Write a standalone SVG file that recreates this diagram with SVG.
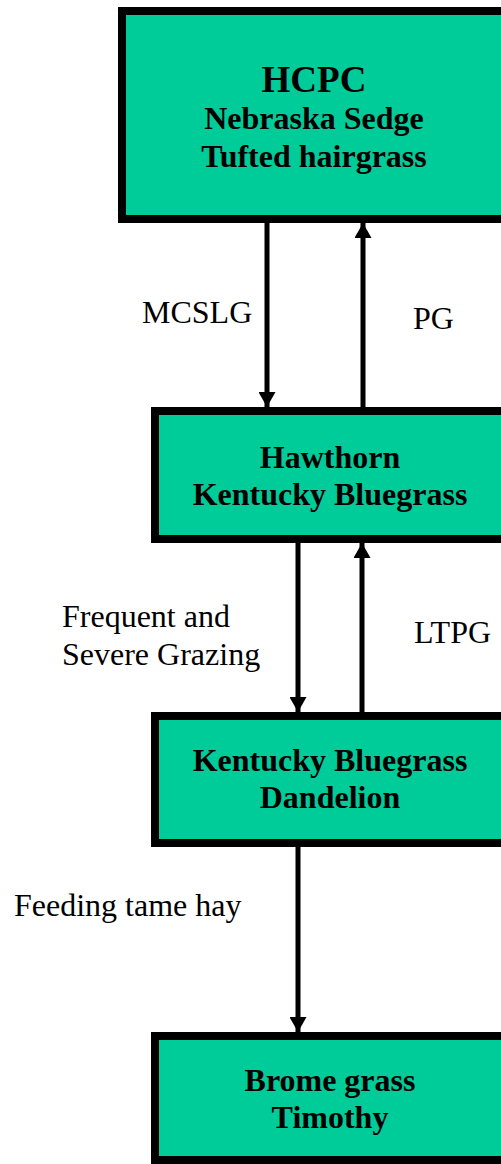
<svg xmlns="http://www.w3.org/2000/svg" width="501" height="1164" viewBox="0 0 501 1164">
<style>
.box{fill:#00CC99;stroke:#000;stroke-width:8}
.nt{font-family:"Liberation Serif","Times New Roman",serif;font-weight:bold;font-size:32px;text-anchor:middle;fill:#000}
.lb{font-family:"Liberation Serif","Times New Roman",serif;font-size:32px;fill:#000}
.c{stroke:#000;stroke-width:5;fill:none}
</style>
<defs>
<marker id="ah" viewBox="0 0 15 17" refX="15" refY="8.5" markerWidth="15" markerHeight="17" markerUnits="userSpaceOnUse" orient="auto">
<path d="M0,0 L15,8.5 L0,17 Z" fill="#000"/>
</marker>
</defs>
<rect width="501" height="1164" fill="#fff"/>
<g id="connectors">
<line class="c" x1="267" y1="223" x2="267" y2="407" marker-end="url(#ah)"/>
<line class="c" x1="363" y1="407" x2="363" y2="223" marker-end="url(#ah)"/>
<line class="c" x1="298" y1="543" x2="298" y2="712" marker-end="url(#ah)"/>
<line class="c" x1="362" y1="712" x2="362" y2="543" marker-end="url(#ah)"/>
<line class="c" x1="298" y1="847" x2="298" y2="1032" marker-end="url(#ah)"/>
<text class="lb" x="142" y="323">MCSLG</text>
<text class="lb" x="413" y="329">PG</text>
<text class="lb" x="62" y="627">Frequent and</text>
<text class="lb" x="62" y="665">Severe Grazing</text>
<text class="lb" x="414" y="643">LTPG</text>
<text class="lb" x="14" y="916">Feeding tame hay</text>
</g>
<g id="hcpc">
<rect class="box" x="122" y="11" width="386" height="208"/>
<text class="nt" x="314" y="92" style="font-size:37px">HCPC</text>
<text class="nt" x="314" y="129">Nebraska Sedge</text>
<text class="nt" x="314" y="167">Tufted hairgrass</text>
</g>
<g id="hawthorn">
<rect class="box" x="155" y="411" width="356" height="128"/>
<text class="nt" x="330" y="468">Hawthorn</text>
<text class="nt" x="330" y="505">Kentucky Bluegrass</text>
</g>
<g id="bluegrass">
<rect class="box" x="155" y="716" width="356" height="127"/>
<text class="nt" x="330" y="771">Kentucky Bluegrass</text>
<text class="nt" x="330" y="808">Dandelion</text>
</g>
<g id="brome">
<rect class="box" x="155" y="1036" width="356" height="124"/>
<text class="nt" x="330" y="1091">Brome grass</text>
<text class="nt" x="330" y="1128">Timothy</text>
</g>
</svg>
